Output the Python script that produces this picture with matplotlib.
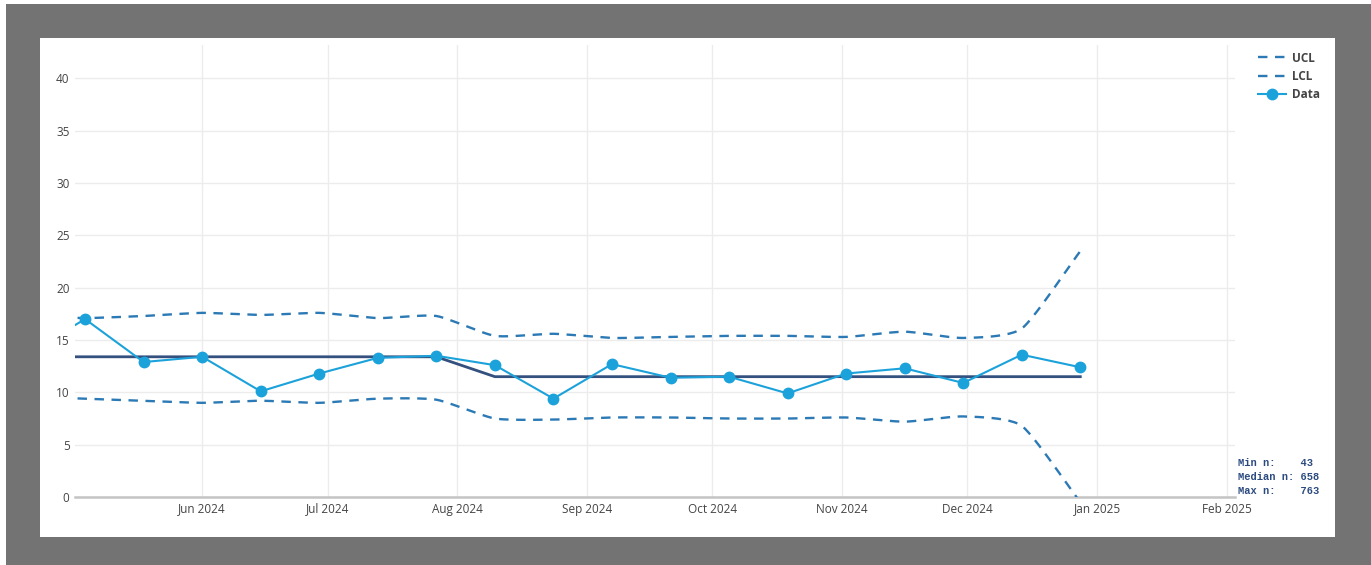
import matplotlib
matplotlib.use("Agg")
import matplotlib.pyplot as plt
import matplotlib.dates as mdates
from matplotlib.lines import Line2D
from matplotlib.patches import Rectangle
import numpy as np
import pandas as pd

# biweekly points (the first one sits left of the visible range)
dates = pd.to_datetime([
    "2024-04-20", "2024-05-04", "2024-05-18", "2024-06-01", "2024-06-15",
    "2024-06-29", "2024-07-13", "2024-07-27", "2024-08-10", "2024-08-24",
    "2024-09-07", "2024-09-21", "2024-10-05", "2024-10-19", "2024-11-02",
    "2024-11-16", "2024-11-30", "2024-12-14", "2024-12-28",
])
data = [13.7, 17.0, 12.9, 13.4, 10.1, 11.8, 13.3, 13.5, 12.6, 9.4,
        12.7, 11.4, 11.5, 9.9, 11.8, 12.3, 10.9, 13.6, 12.4]
center = [13.4] * 8 + [11.5] * 11
ucl = [17.2, 17.1, 17.3, 17.6, 17.4, 17.6, 17.1, 17.3, 15.4, 15.6,
       15.2, 15.3, 15.4, 15.4, 15.3, 15.8, 15.2, 16.1, 23.5]
lcl = [9.6, 9.4, 9.2, 9.0, 9.2, 9.0, 9.4, 9.3, 7.5, 7.4,
       7.6, 7.6, 7.5, 7.5, 7.6, 7.2, 7.7, 6.8, -0.5]

n_labels = ["Min n:", "Median n:", "Max n:"]
n_values = [43, 658, 763]

x_start, x_end = "2024-05-01 14:00", "2025-02-03"


def spline(x, y, steps=24, k=0.6):
    # cardinal spline, tighter than catmull-rom (k scales the tangents)
    x = np.asarray(x, float)
    y = np.asarray(y, float)
    t = np.linspace(0, 1, steps, endpoint=False)
    h00 = 2 * t ** 3 - 3 * t ** 2 + 1
    h10 = t ** 3 - 2 * t ** 2 + t
    h01 = -2 * t ** 3 + 3 * t ** 2
    h11 = t ** 3 - t ** 2
    n = len(x)
    xs, ys = [], []
    for i in range(n - 1):
        a, b = max(i - 1, 0), min(i + 2, n - 1)
        mx0 = k * (x[i + 1] - x[a]) / (i + 1 - a)
        mx1 = k * (x[b] - x[i]) / (b - i)
        my0 = k * (y[i + 1] - y[a]) / (i + 1 - a)
        my1 = k * (y[b] - y[i]) / (b - i)
        xs.extend(h00 * x[i] + h10 * mx0 + h01 * x[i + 1] + h11 * mx1)
        ys.extend(h00 * y[i] + h10 * my0 + h01 * y[i + 1] + h11 * my1)
    xs.append(x[-1])
    ys.append(y[-1])
    return np.array(xs), np.array(ys)


W, H = 1371, 565
fig = plt.figure(figsize=(W / 100, H / 100), dpi=100)
fig.patch.set_facecolor("white")
fig.patches.append(Rectangle((6 / W, 0), 1, 1 - 4 / H, transform=fig.transFigure,
                             facecolor="#737373", edgecolor="none", zorder=-10))
fig.patches.append(Rectangle((40 / W, (H - 537) / H), (1335 - 40) / W, (537 - 38) / H,
                             transform=fig.transFigure, facecolor="white",
                             edgecolor="none", zorder=-9))

ax = fig.add_axes([75 / W, (H - 497) / H, (1235 - 75) / W, (497 - 45) / H])
ax.set_facecolor("none")

xnum = mdates.date2num(dates)
limit_col = "#2b79b5"
data_col = "#1ca2da"
center_col = "#34507f"

sx, sy = spline(xnum, ucl)
ax.plot(sx, sy, color=limit_col, lw=1.7, dashes=(4, 3.2), zorder=3)
sx, sy = spline(xnum, lcl)
ax.plot(sx, sy, color=limit_col, lw=1.7, dashes=(4, 3.2), zorder=3)
ax.plot(xnum, center, color=center_col, lw=2, zorder=2)
ax.plot(xnum, data, color=data_col, lw=1.5, marker="o", ms=7.5, zorder=4)

ax.set_xlim(mdates.datestr2num(x_start), mdates.datestr2num(x_end))
ax.set_ylim(0, 43.2)
ax.set_yticks(range(0, 41, 5))
ax.xaxis.set_major_locator(mdates.MonthLocator())
ax.xaxis.set_major_formatter(mdates.DateFormatter("%b %Y"))
ax.grid(True, color="#ececec", lw=1)
ax.set_axisbelow(True)
for s in ["top", "right", "left"]:
    ax.spines[s].set_visible(False)
ax.spines["bottom"].set_color("#c4c4c4")
ax.spines["bottom"].set_linewidth(1.8)
ax.tick_params(length=0, labelsize=8.5, labelcolor="#444444", pad=4)
for lab in ax.get_xticklabels() + ax.get_yticklabels():
    lab.set_fontfamily("Open Sans")

handles = [
    Line2D([], [], color=limit_col, lw=1.7, dashes=(4, 3.2)),
    Line2D([], [], color=limit_col, lw=1.7, dashes=(4, 3.2)),
    Line2D([], [], color=data_col, lw=1.5, marker="o", ms=7.5),
]
fig.legend(handles, ["UCL", "LCL", "Data"], loc="upper left",
           bbox_to_anchor=(1247 / W, 1 - 41 / H), frameon=False,
           handlelength=2.4, handletextpad=0.5, labelspacing=0.45,
           prop={"family": "Open Sans", "size": 8.5, "weight": "bold"},
           labelcolor="#444444")

for i, (lab, val) in enumerate(zip(n_labels, n_values)):
    fig.text(1238 / W, 1 - (463 + 14 * i) / H, f"{lab:<10}{val}",
             family="Liberation Mono", weight="bold", size=7.5,
             color="#2b4a80", va="center")

fig.savefig("out.png", dpi=100)
